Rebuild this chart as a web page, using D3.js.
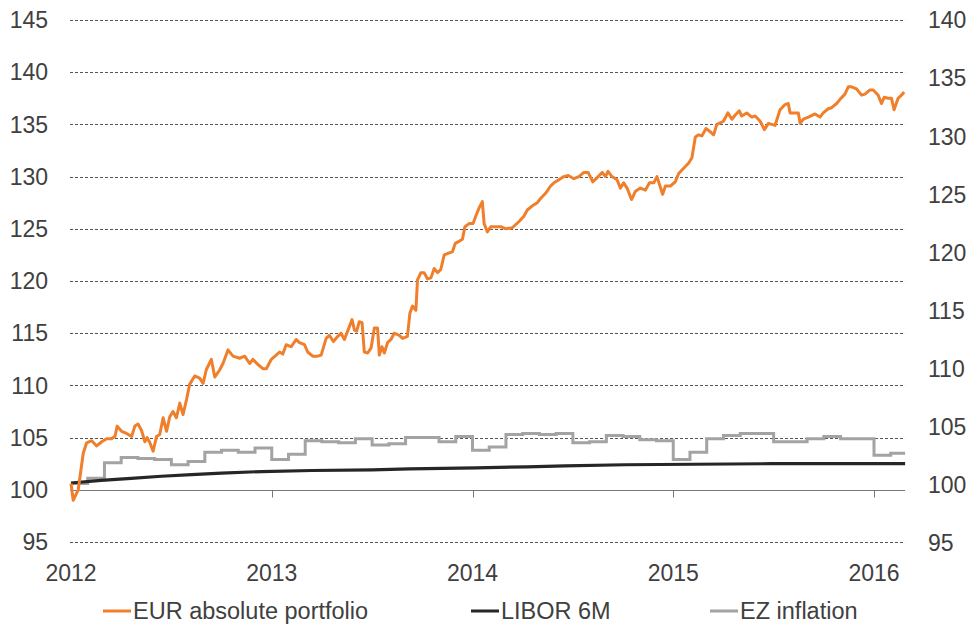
<!DOCTYPE html>
<html><head><meta charset="utf-8">
<script src="https://cdn.jsdelivr.net/npm/d3@7"></script>
<style>
body{margin:0;background:#fff}
text{font-family:"Liberation Sans",Arial,Helvetica,sans-serif;fill:#404040}
</style>
</head><body><svg id="c" width="977" height="638"></svg>
<script>
// ---------- data ----------
const leftTicks = [95,100,105,110,115,120,125,130,135,140,145];
const rightTicks = [95,100,105,110,115,120,125,130,135,140];
const yearTicks = [2012,2013,2014,2015,2016];
const seriesNames = ["EUR absolute portfolio","LIBOR 6M","EZ inflation"];
const seriesColors = ["#F07F2C","#262626","#A3A3A3"];

const portfolioDates = [
2012.000,2012.011,2012.036,2012.061,2012.078,2012.103,2012.128,2012.153,2012.177,2012.202,
2012.219,2012.230,2012.252,2012.277,2012.302,2012.318,2012.334,2012.351,2012.368,2012.379,
2012.393,2012.409,2012.426,2012.442,2012.459,2012.476,2012.492,2012.508,2012.525,2012.542,
2012.558,2012.575,2012.591,2012.616,2012.641,2012.658,2012.674,2012.699,2012.716,2012.741,
2012.757,2012.765,2012.782,2012.807,2012.840,2012.865,2012.890,2012.906,2012.931,2012.956,
2012.973,2012.998,
2013.022,2013.039,2013.055,2013.072,2013.097,2013.122,2013.138,2013.163,2013.179,2013.204,
2013.229,2013.246,2013.271,2013.287,2013.307,2013.329,2013.345,2013.362,2013.378,2013.400,
2013.412,2013.423,2013.436,2013.450,2013.461,2013.478,2013.495,2013.511,2013.527,2013.536,
2013.549,2013.561,2013.577,2013.594,2013.610,2013.635,2013.652,2013.676,2013.688,2013.701,
2013.718,2013.726,2013.743,2013.759,2013.776,2013.793,2013.809,2013.826,2013.842,2013.859,
2013.884,2013.900,2013.914,2013.933,2013.950,2013.962,2013.983,
2014.003,2014.016,2014.033,2014.049,2014.058,2014.074,2014.091,2014.116,2014.141,2014.166,
2014.198,2014.232,2014.256,2014.273,2014.298,2014.323,2014.339,2014.364,2014.389,2014.406,
2014.430,2014.455,2014.477,2014.505,2014.530,2014.555,2014.576,2014.599,2014.621,2014.646,
2014.662,2014.675,2014.695,2014.720,2014.737,2014.753,2014.770,2014.792,2014.812,2014.836,
2014.861,2014.881,2014.903,2014.919,2014.947,2014.961,2014.986,
2015.010,2015.027,2015.052,2015.077,2015.093,2015.110,2015.126,2015.143,2015.163,2015.184,
2015.201,2015.217,2015.239,2015.250,2015.272,2015.292,2015.309,2015.329,2015.341,2015.366,
2015.391,2015.408,2015.433,2015.454,2015.474,2015.491,2015.507,2015.532,2015.557,2015.573,
2015.582,2015.607,2015.623,2015.632,2015.648,2015.673,2015.706,2015.731,2015.747,2015.772,
2015.789,2015.814,2015.831,2015.855,2015.872,2015.888,2015.913,2015.938,2015.955,2015.980,
2015.996,
2016.021,2016.037,2016.051,2016.070,2016.087,2016.100,2016.120,2016.137,2016.150];

const portfolioValues = [
100.6,99.0,100.0,103.5,104.5,104.7,104.2,104.6,104.9,104.9,
105.1,106.1,105.6,105.4,105.1,106.1,106.3,105.7,104.6,105.0,
104.5,103.7,105.1,105.3,106.9,105.6,107.0,107.5,106.9,108.3,
107.2,108.6,110.1,110.9,110.7,110.2,111.5,112.5,110.8,111.5,
112.1,112.5,113.4,112.8,112.6,112.8,112.1,112.5,112.0,111.6,
111.6,112.5,
112.9,113.2,113.0,113.9,113.7,114.4,114.1,113.9,113.2,112.8,
112.8,112.9,114.5,114.8,114.2,114.7,115.0,114.4,115.2,116.3,
115.3,115.2,116.1,116.0,113.2,113.1,113.6,115.5,115.5,112.9,
113.7,113.1,114.1,114.4,115.0,114.8,114.5,114.7,116.9,117.6,
117.2,120.1,120.8,120.8,120.2,120.3,121.2,120.8,121.1,122.5,
122.7,122.8,123.6,123.8,124.0,125.2,125.5,
125.5,126.2,127.0,127.6,125.5,124.7,125.2,125.2,125.2,125.0,
125.1,125.7,126.2,126.8,127.2,127.5,127.9,128.4,129.1,129.4,
129.7,130.0,130.1,129.8,130.0,130.4,130.4,129.5,129.9,130.4,
130.0,130.5,130.0,129.7,128.9,129.4,128.9,127.8,128.6,128.9,
128.7,129.4,129.4,130.0,128.3,129.1,129.1,
129.5,130.3,130.8,131.3,131.8,133.8,134.0,133.9,134.6,134.3,
134.0,135.0,135.2,135.3,136.1,135.5,135.9,136.3,135.8,136.1,
135.7,135.8,135.3,134.5,135.1,135.0,134.9,136.4,136.9,137.0,
136.1,136.1,136.1,135.1,135.5,135.7,136.0,135.7,136.1,136.5,
136.6,137.0,137.4,137.9,138.6,138.6,138.4,137.8,137.9,138.3,
138.3,
137.8,137.0,137.6,137.5,137.5,136.4,137.5,137.8,138.1];

const liborDates  = [2012.00,2012.15,2012.30,2012.45,2012.60,2012.75,2012.95,2013.20,2013.50,2013.685,2014.02,2014.27,2014.46,2014.76,2015.49,2016.155];
const liborValues = [100.65,100.9,101.1,101.3,101.45,101.6,101.75,101.85,101.9,102.0,102.1,102.2,102.3,102.4,102.5,102.5];

// monthly values, Jan 2012 .. Feb 2016
const inflationValues = [
100.6,101.1,102.6,103.1,103.0,102.9,102.4,102.7,103.6,103.8,103.6,104.0,
102.9,103.4,104.7,104.6,104.5,104.9,104.3,104.4,105.0,105.0,104.6,105.1,
103.8,104.1,105.3,105.4,105.3,105.4,104.5,104.6,105.2,105.1,104.8,104.7,
102.9,103.6,104.9,105.2,105.4,105.4,104.6,104.6,104.9,105.1,104.9,104.9,
103.3,103.5];
const inflationEnd = 2016.155;

// ---------- chart ----------
const svg = d3.select("#c");
const x = d3.scaleLinear().domain([2012, 2016]).range([71, 874]);
const yL = d3.scaleLinear().domain([95, 145]).range([542, 20]);
const yR = d3.scaleLinear().domain([95, 140]).range([543, 20]);
const xMax = d3.max([d3.max(portfolioDates), d3.max(liborDates), inflationEnd]);
const x0 = x(2012), x1 = x(xMax);

// gridlines
const grid = svg.append("g");
leftTicks.forEach(t => {
  if (t === 100) return;
  grid.append("line").attr("x1", x0 - 1).attr("x2", x1).attr("y1", Math.round(yL(t)) + 0.5).attr("y2", Math.round(yL(t)) + 0.5)
    .attr("stroke", "#555").attr("stroke-width", 1).attr("stroke-dasharray", "3,2");
});
// baseline 100
const yb = Math.round(yL(100)) + 0.5;
grid.append("line").attr("x1", x0 - 1).attr("x2", x1).attr("y1", yb).attr("y2", yb)
  .attr("stroke", "#777").attr("stroke-width", 1);
yearTicks.slice(1).forEach(t => {
  grid.append("line").attr("x1", Math.round(x(t)) + 0.5).attr("x2", Math.round(x(t)) + 0.5)
    .attr("y1", yb).attr("y2", yb + 7).attr("stroke", "#777").attr("stroke-width", 1);
});

// axis labels
const fs = 23;
svg.append("g").selectAll("text").data(leftTicks).join("text")
  .attr("x", 48).attr("y", d => yL(d)).attr("dy", "0.36em")
  .attr("text-anchor", "end").attr("font-size", fs).text(d => d);
svg.append("g").selectAll("text").data(rightTicks).join("text")
  .attr("x", 928).attr("y", d => yR(d)).attr("dy", "0.36em")
  .attr("text-anchor", "start").attr("font-size", fs).text(d => d);
svg.append("g").selectAll("text").data(yearTicks).join("text")
  .attr("x", d => x(d)).attr("y", 581)
  .attr("text-anchor", "middle").attr("font-size", fs).text(d => d);

// series
const infl = inflationValues.map((v, i) => [2012 + i / 12, v]);
infl.push([inflationEnd, inflationValues[inflationValues.length - 1]]);
svg.append("path").datum(infl)
  .attr("d", d3.line().x(d => x(d[0])).y(d => yL(d[1])).curve(d3.curveStepAfter)).attr("fill", "none")
  .attr("stroke", seriesColors[2]).attr("stroke-width", 3);
const lib = liborDates.map((d, i) => [d, liborValues[i]]);
svg.append("path").datum(lib)
  .attr("d", d3.line().x(d => x(d[0])).y(d => yL(d[1]))).attr("fill", "none")
  .attr("stroke", seriesColors[1]).attr("stroke-width", 3.2);
const port = portfolioDates.map((d, i) => [d, portfolioValues[i]]).filter(d => d[1] !== undefined);
svg.append("path").datum(port)
  .attr("d", d3.line().x(d => x(d[0])).y(d => yL(d[1]))).attr("fill", "none")
  .attr("stroke", seriesColors[0]).attr("stroke-width", 3).attr("stroke-linejoin", "round");

// legend
const legX = [103, 471, 710];
const lg = svg.append("g");
seriesNames.forEach((n, i) => {
  lg.append("line").attr("x1", legX[i]).attr("x2", legX[i] + 28).attr("y1", 611).attr("y2", 611)
    .attr("stroke", seriesColors[i]).attr("stroke-width", 3);
  lg.append("text").attr("x", legX[i] + 30).attr("y", 611).attr("dy", "0.36em")
    .attr("font-size", 23.5).text(n);
});
</script>
</body></html>
